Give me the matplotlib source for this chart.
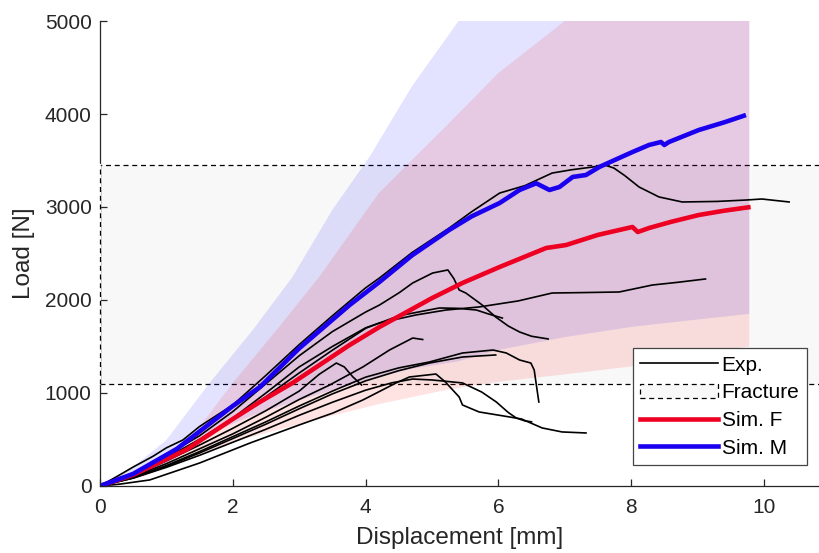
import numpy as np
import matplotlib.pyplot as plt
from matplotlib.patches import Patch
from matplotlib.lines import Line2D

plt.rcParams['font.family'] = ['Liberation Sans', 'DejaVu Sans']

# fracture load range [N]
frac_lo, frac_hi = 1100, 3450

# simulation envelopes (displacement [mm], load [N])
bandM_x = [0, 0.5, 1.0, 1.65, 2.3, 2.9, 3.5, 4.06, 4.7, 5.4, 6.0, 7.0, 8.0, 9.0, 9.78]
bandM_hi = [0, 204, 495, 1108, 1677, 2250, 2970, 3540, 4300, 5000, 5500, 6200, 6800, 7300, 7800]
bandM_lo = [0, 100, 230, 560, 760, 900, 1030, 1150, 1260, 1340, 1462, 1600, 1710, 1790, 1850]

bandF_x = [0, 0.65, 1.35, 2.0, 2.66, 3.3, 4.2, 5.2, 6.0, 7.0, 8.0, 9.0, 9.78]
bandF_hi = [0, 172, 495, 1108, 1677, 2247, 3150, 3860, 4440, 5000, 5500, 5900, 6200]
bandF_lo = [0, 100, 300, 470, 600, 720, 880, 1030, 1120, 1200, 1285, 1430, 1500]

# mean simulation curves
simM_x = [0, 0.5, 1.16, 2.0, 2.41, 3.0, 3.76, 4.21, 4.7, 5.26, 5.6, 6.02, 6.32, 6.57, 6.77,
          6.92, 7.12, 7.32, 7.52, 7.82, 8.02, 8.27, 8.45, 8.5, 8.57, 9.02, 9.4, 9.73]
simM_y = [0, 130, 400, 860, 1065, 1480, 1946, 2194, 2480, 2753, 2900, 3043, 3183, 3255, 3183,
          3215, 3323, 3344, 3430, 3527, 3591, 3667, 3699, 3667, 3699, 3828, 3910, 3989]

simF_x = [0, 0.5, 1.3, 2.0, 2.4, 2.9, 3.76, 4.21, 5.0, 5.46, 6.02, 6.72, 7.02, 7.5, 8.02,
          8.1, 8.27, 8.6, 9.02, 9.4, 9.8]
simF_y = [0, 120, 390, 720, 900, 1108, 1516, 1710, 2020, 2183, 2355, 2559, 2591, 2700, 2785,
          2731, 2774, 2840, 2914, 2960, 3000]

# experiments
exp_x = [
    [0, 0.25, 0.5, 0.8, 1.0, 1.25, 1.5, 2.0, 2.5, 3.0, 3.5, 4.0, 4.21, 4.7, 5.26, 5.6, 6.02,
     6.4, 6.81, 7.1, 7.42, 7.6, 7.74, 7.9, 8.12, 8.42, 8.77, 9.3, 9.73, 9.97, 10.38],
    [0, 0.5, 1, 1.5, 2, 2.5, 3, 3.5, 4.0, 4.21, 4.51, 4.71, 5.01, 5.24, 5.33, 5.41, 5.51,
     5.75, 5.96, 6.15, 6.32, 6.5, 6.75],
    [0, 0.5, 1, 1.5, 2, 2.5, 3, 3.5, 4.0, 4.21, 4.76, 5.21, 5.71, 6.3, 6.81, 7.3, 7.82,
     8.32, 8.7, 9.12],
    [0, 0.5, 1, 1.5, 2, 2.5, 3, 3.5, 4.01, 4.5, 5.11, 5.4, 5.67, 5.85, 6.06],
    [0, 0.5, 1, 1.5, 2, 2.5, 3, 3.46, 3.96, 4.36, 4.71, 4.86],
    [0, 0.5, 1, 1.5, 2, 2.5, 3, 3.3, 3.56, 3.68, 3.81, 3.94],
    [0, 0.5, 1, 1.5, 2, 2.5, 3, 3.5, 4, 4.5, 4.96, 5.46, 5.92, 6.12, 6.32, 6.49, 6.54, 6.58, 6.61],
    [0, 0.5, 1, 1.5, 2, 2.5, 3, 3.5, 4, 4.5, 4.96, 5.46, 5.96],
    [0, 0.3, 0.75, 1.5, 2.26, 3.0, 3.51, 3.96, 4.46, 4.66, 5.06, 5.2, 5.41, 5.46, 5.71, 6.17,
     6.35, 6.66, 6.96, 7.32],
    [0, 0.5, 1, 1.5, 2, 2.5, 3, 3.5, 4, 4.4, 4.71, 5.0, 5.46, 5.75, 5.97, 6.15, 6.27, 6.4, 6.5],
]
exp_y = [
    [0, 100, 204, 320, 410, 495, 640, 871, 1190, 1520, 1830, 2130, 2237, 2510, 2774, 2950, 3150,
     3230, 3365, 3400, 3430, 3452, 3419, 3340, 3215, 3108, 3054, 3060, 3075, 3086, 3054],
    [0, 140, 330, 540, 800, 1100, 1400, 1660, 1870, 1946, 2080, 2183, 2290, 2323, 2230, 2108,
     2075, 1950, 1817, 1720, 1656, 1610, 1581],
    [0, 120, 300, 500, 730, 1000, 1280, 1500, 1700, 1753, 1839, 1892, 1925, 1990, 2075, 2080,
     2086, 2161, 2190, 2226],
    [0, 120, 300, 500, 720, 960, 1215, 1460, 1699, 1830, 1914, 1910, 1892, 1850, 1806],
    [0, 100, 240, 400, 560, 740, 930, 1086, 1280, 1462, 1591, 1575],
    [0, 110, 270, 440, 620, 810, 1020, 1200, 1322, 1280, 1172, 1086],
    [0, 90, 220, 370, 530, 690, 860, 1020, 1170, 1270, 1333, 1430, 1462, 1430, 1355, 1322, 1247,
     1050, 903],
    [0, 85, 210, 355, 510, 665, 830, 990, 1130, 1240, 1322, 1387, 1409],
    [0, 20, 65, 247, 462, 656, 785, 925, 1108, 1172, 1204, 1120, 957, 871, 796, 742, 720, 624,
     581, 570],
    [0, 85, 200, 330, 470, 610, 760, 900, 1030, 1110, 1150, 1140, 1108, 1010, 903, 790, 731,
     700, 690],
]

txt = '#262626'

fig = plt.figure(figsize=(8.19, 5.53), dpi=100)
ax = fig.add_axes([0.1221, 0.1212, 0.8779, 0.8408])

# fracture band
ax.fill([0, 12, 12, 0], [frac_lo, frac_lo, frac_hi, frac_hi], facecolor='#f8f8f8',
        edgecolor='k', linestyle=(0, (4, 3)), linewidth=0.9, zorder=0.5)
ax.plot([0, 0], [frac_lo, frac_hi], color='white', lw=1.6, zorder=3, clip_on=False)
ax.plot([0, 0], [frac_lo, frac_hi], color='k', lw=0.9, dashes=(4, 3), zorder=3.1, clip_on=False)

# envelopes
ax.fill_between(bandM_x, bandM_lo, bandM_hi, color='b', alpha=0.11, lw=0, zorder=1)
ax.fill_between(bandF_x, bandF_lo, bandF_hi, color='r', alpha=0.11, lw=0, zorder=1.1)

for xs, ys in zip(exp_x, exp_y):
    ax.plot(xs, ys, color='k', lw=1.2, zorder=2)

ax.plot(simF_x, simF_y, color='#ee0022', lw=3.3, zorder=2.2, solid_capstyle='butt')
ax.plot(simM_x, simM_y, color='#1a00ee', lw=3.3, zorder=2.3, solid_capstyle='butt')

ax.set_xlim(0, 10.83)
ax.set_ylim(0, 5000)
ax.set_xticks([0, 2, 4, 6, 8, 10])
ax.set_yticks([0, 1000, 2000, 3000, 4000, 5000])
ax.spines['top'].set_visible(False)
ax.spines['right'].set_visible(False)
for s in ['left', 'bottom']:
    ax.spines[s].set_color(txt)
    ax.spines[s].set_linewidth(0.9)
ax.tick_params(direction='in', length=5, width=0.9, colors=txt, labelsize=15)
ax.tick_params(axis='x', pad=9)
ax.tick_params(axis='y', pad=6)
ax.set_xlabel('Displacement [mm]', fontsize=17.5, color=txt, labelpad=7)
ax.set_ylabel('Load [N]', fontsize=17.5, color=txt, labelpad=7)

handles = [
    Line2D([], [], color='k', lw=1.2),
    Patch(facecolor='#f8f8f8', edgecolor='k', linestyle=(0, (4, 3)), linewidth=0.9),
    Line2D([], [], color='#ee0022', lw=3.3),
    Line2D([], [], color='#1a00ee', lw=3.3),
]
leg = ax.legend(handles, ['Exp.', 'Fracture', 'Sim. F', 'Sim. M'], loc='lower right',
                bbox_to_anchor=(0.983, 0.045), fontsize=15, frameon=True, fancybox=False,
                handlelength=3.7, handletextpad=0.2, labelspacing=0.42, borderpad=0.35,
                borderaxespad=0)
leg.get_frame().set_edgecolor('#444444')
leg.get_frame().set_linewidth(0.9)
leg.get_frame().set_alpha(1)
for t in leg.get_texts():
    t.set_color('k')

plt.savefig('out.png', dpi=100)
